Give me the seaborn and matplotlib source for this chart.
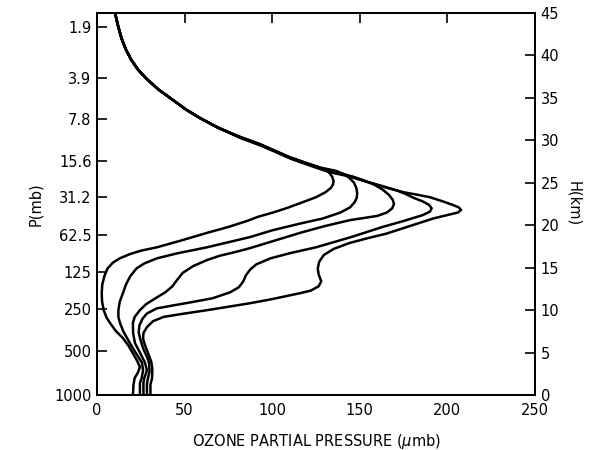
import numpy as np
import pandas as pd
import matplotlib
matplotlib.use("Agg")
import matplotlib.pyplot as plt
import seaborn as sns

# ------------------------------------------------------------
# digitised profiles: ozone partial pressure (umb) vs height (km)
# ------------------------------------------------------------

# shared upper part (above ~31 km all profiles coincide)
top_x = [10.3, 12.0, 14.0, 16.5, 19.5, 23.5, 28.5, 35.0, 43.0, 51.0, 59.0, 69.0]
top_h = [45.0, 43.5, 42.0, 40.7, 39.5, 38.3, 37.2, 36.0, 34.8, 33.6, 32.6, 31.5]

c1_x = [80.5, 92.5, 109.0, 120.0, 126.0, 129.5, 132.5, 134.3, 135.0, 134.7, 133.5,
        130.5, 125.0, 116.0, 108.0, 100.5, 92.0, 85.6, 75.0, 62.8, 48.0, 34.2,
        25.0, 18.8, 13.0, 9.1, 6.0, 4.2, 3.0, 2.7, 2.9, 3.8, 5.5, 7.4, 10.5, 14.8,
        18.0, 20.5, 23.0, 24.5, 23.5, 21.5, 20.8, 20.5]
c1_h = [30.5, 29.6, 28.1, 27.3, 26.9, 26.6, 26.2, 25.7, 25.2, 24.8, 24.4,
        23.9, 23.3, 22.6, 22.0, 21.5, 21.0, 20.5, 19.8, 19.1, 18.2, 17.4,
        17.0, 16.6, 16.1, 15.6, 14.9, 14.0, 13.0, 12.0, 11.0, 10.0, 9.1, 8.5, 7.6, 6.7,
        5.8, 4.9, 4.0, 3.3, 2.7, 2.0, 1.2, 0.0]

c2_x = [81.0, 93.0, 109.5, 120.5, 127.0, 132.0, 136.5, 140.0, 144.0, 146.7, 148.0,
        148.5, 148.2, 147.0, 144.4, 139.0, 129.0, 116.0, 100.0, 87.3, 75.0, 62.8,
        46.0, 34.2, 27.0, 22.5, 19.0, 16.5, 14.8, 13.0, 12.2, 12.2, 13.1, 15.0,
        18.8, 22.0, 25.7, 26.3, 25.5, 24.5, 24.5]
c2_h = [30.4, 29.5, 28.0, 27.2, 26.8, 26.6, 26.4, 26.1, 25.6, 25.0, 24.4,
        23.8, 23.2, 22.7, 22.1, 21.5, 20.8, 20.2, 19.4, 18.6, 18.0, 17.4,
        16.7, 16.1, 15.5, 14.9, 14.0, 13.0, 12.0, 11.0, 10.0, 9.2, 8.5, 7.5,
        6.1, 5.0, 3.8, 2.9, 2.0, 1.4, 0.0]

c3_x = [81.6, 93.5, 110.0, 121.0, 128.0, 134.0, 141.0, 146.5, 152.0, 158.0, 163.0,
        166.5, 168.8, 169.5, 168.5, 165.5, 160.0, 144.4, 130.0, 115.9, 100.0, 87.3,
        80.0, 70.0, 62.8, 55.0, 49.0, 45.5, 43.0, 39.0, 34.2, 28.0, 24.5, 21.5,
        20.5, 20.6, 21.7, 24.5, 27.4, 28.5, 27.0, 26.5, 26.5]
c3_h = [30.4, 29.5, 28.0, 27.2, 26.7, 26.4, 26.0, 25.7, 25.3, 24.8, 24.2,
        23.6, 23.0, 22.5, 22.0, 21.5, 21.1, 20.6, 19.9, 19.1, 18.1, 17.3,
        16.9, 16.4, 15.9, 15.2, 14.4, 13.5, 12.8, 12.1, 11.5, 10.7, 10.0, 9.2,
        8.5, 7.3, 6.1, 5.0, 3.8, 2.9, 2.0, 1.4, 0.0]

c4_x = [82.2, 94.0, 110.5, 121.5, 128.5, 135.0, 142.5, 152.5, 163.0, 171.0, 176.0,
        181.0, 186.0, 189.5, 191.0, 190.0, 186.0, 175.0, 163.0, 145.0, 125.0, 110.0,
        99.0, 91.0, 87.5, 85.0, 83.5, 81.0, 76.0, 66.0, 53.0, 42.0, 34.0, 28.5,
        26.0, 24.2, 23.8, 24.8, 26.5, 28.5, 29.7, 30.0, 29.0, 28.5, 28.5]
c4_h = [30.3, 29.4, 27.9, 27.1, 26.6, 26.2, 25.9, 25.2, 24.6, 24.1, 23.7,
        23.2, 22.8, 22.4, 22.0, 21.6, 21.2, 20.5, 19.8, 18.6, 17.4, 16.7,
        16.1, 15.4, 14.8, 14.1, 13.4, 12.7, 12.1, 11.4, 10.9, 10.5, 10.2, 9.6,
        9.0, 8.2, 7.4, 6.5, 5.4, 4.5, 3.8, 2.8, 1.9, 1.3, 0.0]

c5_x = [82.8, 94.5, 111.0, 122.0, 129.0, 136.0, 143.0, 153.0, 164.0, 174.7, 182.6,
        190.0, 197.5, 203.0, 206.5, 207.8, 206.0, 200.0, 192.0, 183.0, 174.0, 165.0,
        155.0, 144.0, 135.0, 129.5, 126.8, 126.0, 126.5, 128.0, 126.5, 122.0, 116.0,
        100.0, 87.0, 75.0, 63.0, 50.0, 38.0, 32.0, 28.5, 26.5, 26.3, 27.5, 29.0,
        31.0, 31.6, 31.4, 30.5, 30.5]
c5_h = [30.2, 29.3, 27.8, 27.0, 26.5, 26.1, 25.8, 25.2, 24.5, 23.9, 23.6,
        23.3, 22.8, 22.4, 22.1, 21.8, 21.5, 21.2, 20.8, 20.2, 19.6, 19.0,
        18.5, 17.9, 17.2, 16.5, 15.7, 14.9, 14.2, 13.4, 12.8, 12.3, 12.0,
        11.3, 10.8, 10.4, 10.0, 9.6, 9.2, 8.7, 8.0, 7.3, 6.6, 5.8, 5.0,
        3.9, 3.0, 2.0, 1.2, 0.0]

# pressure labels on the left axis and the heights they sit at
p_labels = ["1.9", "3.9", "7.8", "15.6", "31.2", "62.5", "125", "250", "500", "1000"]
p_heights = [43.4, 37.4, 32.5, 27.6, 23.3, 18.8, 14.5, 10.1, 5.2, 0.0]

x_ticks = [0, 50, 100, 150, 200, 250]
h_ticks = [0, 5, 10, 15, 20, 25, 30, 35, 40, 45]


# ------------------------------------------------------------
# build long table
# ------------------------------------------------------------
rows = []
for name, xs, hs in [("c1", c1_x, c1_h), ("c2", c2_x, c2_h), ("c3", c3_x, c3_h),
                     ("c4", c4_x, c4_h), ("c5", c5_x, c5_h)]:
    full_x = top_x + xs
    full_h = top_h + hs
    for i, (xv, hv) in enumerate(zip(full_x, full_h)):
        rows.append({"profile": name, "order": i, "ozone": xv, "height": hv})
df = pd.DataFrame(rows)

sns.set_theme(style="white")
plt.rcParams["font.family"] = ["DejaVu Sans"]
plt.rcParams["font.size"] = 10.5
plt.rcParams["text.color"] = "black"
plt.rcParams["axes.labelcolor"] = "black"

fig = plt.figure(figsize=(6.04, 4.5), dpi=100)
ax = fig.add_axes([0.1606, 0.1222, 0.7252, 0.8489])

sns.lineplot(
    data=df,
    x="ozone",
    y="height",
    units="profile",
    estimator=None,
    sort=False,
    color="black",
    linewidth=1.8,
    solid_joinstyle="round",
    solid_capstyle="round",
    ax=ax,
)

ax.set_xlim(0, 250)
ax.set_ylim(0, 45)
ax.set_xticks(x_ticks)
ax.set_xticklabels([str(t) for t in x_ticks])
ax.set_yticks(p_heights)
ax.set_yticklabels(p_labels)
ax.set_xlabel("OZONE PARTIAL PRESSURE ($\\mu$mb)", fontsize=10.5, labelpad=10)
ax.set_ylabel("P(mb)", fontsize=10.5, labelpad=8)
ax.tick_params(axis="both", direction="in", length=7, width=1.2,
               colors="black", labelsize=10.5, top=True, pad=4)
ax.tick_params(axis="x", pad=6)

for s in ax.spines.values():
    s.set_color("black")
    s.set_linewidth(1.4)

ax2 = ax.twinx()
ax2.set_ylim(0, 45)
ax2.set_yticks(h_ticks)
ax2.set_yticklabels([str(t) for t in h_ticks])
ax2.tick_params(axis="y", direction="in", length=7, width=1.2,
                colors="black", labelsize=10.5, pad=4)
ax2.set_ylabel("H(km)", rotation=270, fontsize=10.5, labelpad=16)
for s in ax2.spines.values():
    s.set_color("black")
    s.set_linewidth(1.4)

fig.savefig("out.png", dpi=100, facecolor="white")
